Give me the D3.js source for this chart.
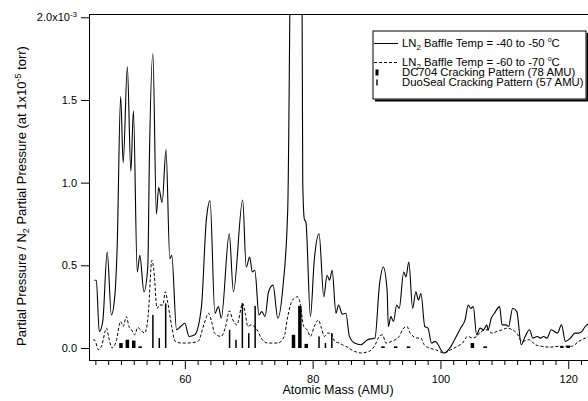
<!DOCTYPE html>
<html>
<head>
<meta charset="utf-8">
<script src="https://cdn.jsdelivr.net/npm/d3@7"></script>
<style>
  body { margin: 0; background: #fff; }
  svg { display: block; font-family: "Liberation Sans", Arial, sans-serif; }
</style>
</head>
<body>
<div id="chart"></div>
<script>
// LN2 baffle -40 to -50 C (solid)
const solidMass = [45.85, 46.15, 46.6, 47.15, 47.85, 48.5, 49.05, 49.4, 49.95, 50.35, 51.0, 51.55, 51.95, 52.55, 52.95,
    53.6, 54.2, 54.45, 55.0, 55.55, 55.9, 56.45, 57.05, 57.65, 57.95, 58.7, 59.35, 60.0, 60.65, 61.55, 62.6, 63.35,
    63.95, 64.7, 65.25, 65.7, 66.95, 67.6, 69.05, 69.6, 70.15, 70.55, 70.95, 71.6, 72.05, 72.55, 73.1, 73.8, 74.55,
    75.35, 76.1, 76.75, 78.25, 78.45, 78.7, 78.95, 79.65, 80.25, 81.0, 81.75, 82.25, 82.65, 83.05, 83.65, 84.05,
    84.65, 85.2, 85.75, 86.55, 87.55, 88.6, 89.75, 90.45, 91.05, 91.65, 91.85, 92.25, 92.65, 93.15, 93.55, 94.25,
    94.6, 95.05, 95.65, 96.15, 96.55, 96.95, 97.55, 98.05, 98.6, 99.15, 100.55, 101.65, 102.35, 103.15, 103.85,
    104.35, 104.75, 105.15, 105.65, 106.2, 106.75, 107.25, 107.45, 107.95, 108.45, 109.25, 109.65, 110.25, 110.65,
    111.3, 111.95, 112.65, 113.25, 113.95, 114.45, 115.15, 115.65, 116.15, 116.65, 117.35, 118.3, 118.95, 119.55,
    120.35, 121.05, 121.65, 122.15, 122.65, 123.3];
const solidValue = [0.41, 0.41, 0.10, 0.16, 0.58, 0.20, 0.32, 0.60, 1.52, 1.12, 1.70, 1.07, 1.435, 0.46, 0.56,
    0.34, 0.49, 1.14, 1.78, 0.81, 0.97, 0.88, 1.20, 0.54, 0.56, 0.11, 0.13, 0.15, 0.07, 0.08, 0.25, 0.77,
    0.89, 0.21, 0.25, 0.18, 0.69, 0.34, 0.895, 0.49, 0.55, 0.46, 0.47, 0.20, 0.22, 0.19, 0.34, 0.38, 0.18,
    0.37, 0.835, 3.0, 3.0, 1.0, 0.78, 0.76, 0.19, 0.53, 0.69, 0.31, 0.44, 0.41, 0.47, 0.21, 0.26,
    0.205, 0.21, 0.07, 0.03, 0.02, 0.05, 0.06, 0.38, 0.49, 0.35, 0.13, 0.19, 0.16, 0.26, 0.24, 0.46,
    0.43, 0.52, 0.24, 0.34, 0.29, 0.33, 0.13, 0.12, 0.03, 0.04, -0.03, 0.01, 0.06, 0.12, 0.17,
    0.26, 0.24, 0.25, 0.08, 0.12, 0.11, 0.14, 0.11, 0.18, 0.21, 0.25, 0.14, 0.14, 0.13,
    0.24, 0.22, 0.02, 0.07, 0.11, 0.06, 0.07, 0.06, 0.07, 0.06, 0.11, 0.09, 0.14, 0.04,
    0.06, 0.09, 0.09, 0.10, 0.13, 0.15];

// LN2 baffle -60 to -70 C (dashed)
const dashedMass = [45.65, 45.95, 46.45, 46.95, 47.75, 48.05, 48.6, 49.25, 49.95, 50.35, 50.85, 51.25, 51.65, 52.15,
    52.65, 53.05, 53.7, 54.25, 54.85, 55.15, 55.65, 56.05, 56.55, 56.95, 57.25, 57.95, 58.5, 59.45, 60.25, 62.05,
    63.05, 63.7, 64.25, 64.65, 65.65, 66.45, 66.95, 67.5, 68.15, 69.05, 69.45, 69.85, 70.35, 70.85, 71.45, 71.95,
    72.95, 74.55, 75.55, 76.1, 76.85, 77.65, 78.05, 78.6, 79.15, 79.65, 80.25, 80.9, 81.3, 81.85, 82.35, 82.85,
    83.45, 84.15, 84.65, 85.2, 86.55, 87.55, 88.85, 89.65, 90.45, 90.95, 91.45, 92.35, 93.55, 94.05, 94.75, 95.25,
    96.45, 96.95, 97.45, 98.25, 99.25, 100.55, 101.65, 102.65, 103.45, 104.25, 105.05, 105.65, 106.35, 107.35,
    108.05, 108.85, 109.65, 110.45, 111.25, 111.95, 112.75, 113.85, 114.85, 115.85, 117.15, 118.45, 119.55,
    120.55, 121.65, 122.65, 123.3];
const dashedValue = [0.05, 0.045, -0.01, 0.01, 0.12, 0.07, 0.0, 0.04, 0.16, 0.13, 0.19, 0.13, 0.11, 0.08,
    0.125, 0.11, 0.09, 0.19, 0.53, 0.47, 0.24, 0.26, 0.26, 0.34, 0.29, 0.13, 0.04, 0.03, 0.03, 0.04,
    0.15, 0.21, 0.15, 0.09, 0.07, 0.14, 0.225, 0.17, 0.14, 0.27, 0.21, 0.13, 0.14, 0.13, 0.10, 0.06,
    0.03, 0.03, 0.07, 0.19, 0.29, 0.31, 0.27, 0.13, 0.11, 0.07, 0.13, 0.17, 0.13, 0.07, 0.09, 0.09,
    0.04, 0.03, 0.02, 0.01, -0.02, -0.03, -0.02, 0.01, 0.07, 0.08, 0.03, 0.04, 0.07, 0.11, 0.13, 0.09,
    0.06, 0.06, 0.02, 0.0, -0.01, -0.03, -0.01, 0.01, 0.03, 0.07, 0.06, 0.07, 0.10, 0.11,
    0.09, 0.10, 0.11, 0.12, 0.11, 0.09, 0.04, 0.05, 0.02, 0.01, 0.005, 0.01, 0.01,
    0.01, 0.04, 0.06, 0.07];

// cracking patterns
const dcMass = [50, 51, 52, 53, 77, 78, 79, 91, 93, 95, 105, 107, 119, 120];
const dcValue = [0.03, 0.05, 0.045, 0.01, 0.08, 0.255, 0.025, 0.01, 0.01, 0.01, 0.03, 0.01, 0.01, 0.015];
const duoMass = [55, 56, 57, 67, 68, 69, 70, 71, 81, 82, 83];
const duoValue = [0.20, 0.06, 0.27, 0.11, 0.05, 0.27, 0.09, 0.255, 0.07, 0.03, 0.09];

const xMajor = [60, 80, 100, 120];
const yTicks = [0, 0.5, 1.0, 1.5, 2.0];

const width = 588, height = 401;
const plotLeft = 89, plotTop = 14, plotBottom = 360;

const svg = d3.select('#chart')
    .append('svg')
    .attr('width', width)
    .attr('height', height);

const x = d3.scaleLinear().domain([45, 125]).range([plotLeft, 600.2]);
const y = d3.scaleLinear().domain([0, 2]).range([348, 17.3]);

svg.append('clipPath').attr('id', 'clip')
    .append('rect')
    .attr('x', plotLeft).attr('y', plotTop)
    .attr('width', width - plotLeft).attr('height', plotBottom - plotTop);

const plot = svg.append('g').attr('clip-path', 'url(#clip)');

// bars (drawn first, curves on top)
plot.selectAll('rect.dc')
    .data(d3.zip(dcMass, dcValue))
    .enter()
    .append('rect')
    .attr('class', 'dc')
    .attr('x', d => x(d[0]) - 1.75)
    .attr('width', 3.5)
    .attr('y', d => y(d[1]))
    .attr('height', d => y(0) - y(d[1]))
    .attr('fill', '#000');

plot.selectAll('rect.duo')
    .data(d3.zip(duoMass, duoValue))
    .enter()
    .append('rect')
    .attr('class', 'duo')
    .attr('x', d => x(d[0]) - 0.75)
    .attr('width', 1.5)
    .attr('y', d => y(d[1]))
    .attr('height', d => y(0) - y(d[1]))
    .attr('fill', '#000');

const line = d3.line()
    .x(d => x(d[0]))
    .y(d => y(d[1]))
    .curve(d3.curveMonotoneX);

plot.append('path')
    .datum(d3.zip(dashedMass, dashedValue))
    .attr('d', line)
    .attr('fill', 'none')
    .attr('stroke', '#000')
    .attr('stroke-width', 1)
    .attr('stroke-dasharray', '3,2');

plot.append('path')
    .datum(d3.zip(solidMass, solidValue))
    .attr('d', line)
    .attr('fill', 'none')
    .attr('stroke', '#000')
    .attr('stroke-width', 1.1);

// frame
svg.append('line').attr('x1', plotLeft + 0.5).attr('x2', plotLeft + 0.5).attr('y1', plotTop).attr('y2', plotBottom + 1)
    .attr('stroke', '#000');
svg.append('line').attr('x1', plotLeft).attr('x2', width).attr('y1', plotBottom + 0.5).attr('y2', plotBottom + 0.5)
    .attr('stroke', '#000');
svg.append('line').attr('x1', plotLeft).attr('x2', width).attr('y1', plotTop + 0.5).attr('y2', plotTop + 0.5)
    .attr('stroke', '#000');

// x axis
const xMinor = d3.range(46, 125, 2).filter(v => v % 20 !== 0);
svg.append('g')
    .attr('transform', `translate(0,${plotBottom})`)
    .call(d3.axisBottom(x).tickValues(xMinor).tickSize(5).tickFormat(''))
    .call(g => g.select('.domain').remove());

svg.append('g')
    .attr('transform', `translate(0,${plotBottom})`)
    .attr('font-family', '"Liberation Sans", Arial, sans-serif')
    .call(d3.axisBottom(x).tickValues(xMajor).tickSize(9).tickPadding(6).tickFormat(d3.format('d')))
    .call(g => g.select('.domain').remove())
    .call(g => g.selectAll('text').attr('font-size', 11).attr('fill', '#000'));

// y axis
const yAxis = svg.append('g')
    .attr('transform', `translate(${plotLeft},0)`)
    .attr('font-family', '"Liberation Sans", Arial, sans-serif')
    .call(d3.axisLeft(y).tickValues(yTicks).tickSize(8).tickPadding(4).tickFormat(d3.format('.1f')))
    .call(g => g.select('.domain').remove())
    .call(g => g.selectAll('text').attr('font-size', 11).attr('fill', '#000'));

yAxis.selectAll('.tick text')
    .filter(d => d === 2)
    .text('2.0x10')
    .append('tspan')
    .attr('font-size', 8)
    .attr('dy', '-0.6em')
    .text('-3');

// rich text helper: parts = [text, shift(px), size]
function richText(g, parts, baseSize) {
    const t = g.append('text').attr('font-size', baseSize).attr('fill', '#000');
    let cur = 0;
    parts.forEach(p => {
        const shift = p[1] || 0;
        t.append('tspan')
            .attr('dy', shift - cur)
            .attr('font-size', p[2] || baseSize)
            .text(p[0]);
        cur = shift;
    });
    return t;
}

// axis titles
richText(svg.append('g').attr('transform', 'translate(338,394)'), [['Atomic Mass (AMU)']], 12.5)
    .attr('text-anchor', 'middle');

const yTitle = richText(svg.append('g').attr('transform', 'translate(26,196) rotate(-90)'), [
    ['Partial Pressure / N'], ['2', 3, 9], [' Partial Pressure (at 1x10'], ['-5', -5, 9], [' torr)']
], 13);
yTitle.attr('x', -yTitle.node().getComputedTextLength() / 2);

// legend
const legend = svg.append('g');
legend.append('rect')
    .attr('x', 373).attr('y', 31).attr('width', 213).attr('height', 68)
    .attr('fill', '#fff').attr('stroke', '#000');
legend.append('path')
    .attr('d', 'M375,100.5 H587.5 V33')
    .attr('fill', 'none').attr('stroke', '#000').attr('stroke-width', 2);

legend.append('line').attr('x1', 374).attr('x2', 398).attr('y1', 43.5).attr('y2', 43.5)
    .attr('stroke', '#000');
legend.append('line').attr('x1', 374).attr('x2', 398).attr('y1', 62.5).attr('y2', 62.5)
    .attr('stroke', '#000').attr('stroke-dasharray', '3,2');
legend.append('rect').attr('x', 375.5).attr('y', 69.5).attr('width', 3).attr('height', 6).attr('fill', '#000');
legend.append('rect').attr('x', 376.3).attr('y', 79.5).attr('width', 1.4).attr('height', 6).attr('fill', '#000');

richText(legend.append('g').attr('transform', 'translate(402,47)'), [
    ['LN'], ['2', 3, 8], [' Baffle Temp = -40 to -50 '], ['o', -5, 7], ['C']
], 11.3);
richText(legend.append('g').attr('transform', 'translate(402,66)'), [
    ['LN'], ['2', 3, 8], [' Baffle Temp = -60 to -70 '], ['o', -5, 7], ['C']
], 11.3);
richText(legend.append('g').attr('transform', 'translate(402,76)'), [['DC704 Cracking Pattern (78 AMU)']], 11.3);
richText(legend.append('g').attr('transform', 'translate(402,86)'), [['DuoSeal Cracking Pattern (57 AMU)']], 11.3);
</script>
</body>
</html>
